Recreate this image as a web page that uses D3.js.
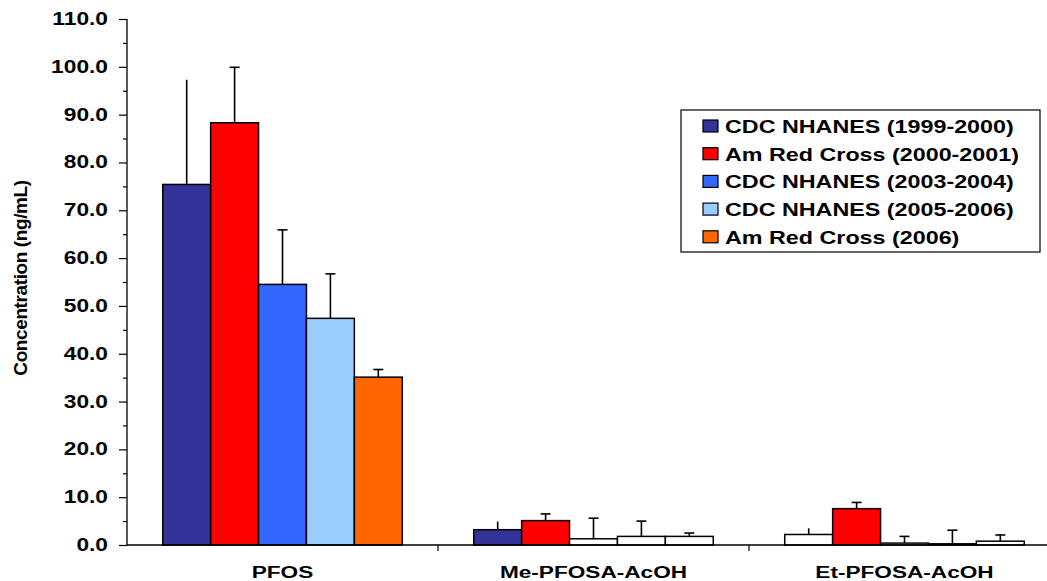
<!DOCTYPE html>
<html>
<head>
<meta charset="utf-8">
<script src="https://cdn.jsdelivr.net/npm/d3@7"></script>
<style>
  body { margin: 0; background: #fff; }
  text { font-family: Arial, "Liberation Sans", sans-serif; fill: #000; }
</style>
</head>
<body>
<div id="chart"></div>
<script>
const width = 1047;
const height = 581;

const categories = ["PFOS", "Me-PFOSA-AcOH", "Et-PFOSA-AcOH"];
const seriesNames = ["CDC NHANES (1999-2000)", "Am Red Cross (2000-2001)", "CDC NHANES (2003-2004)", "CDC NHANES (2005-2006)", "Am Red Cross (2006)"];
const seriesColors = ["#333399", "#ff0000", "#3366ff", "#99ccff", "#ff6600"];
// mean per category, one array per series
const means = [
    [75.4, 3.2, 2.2],
    [88.3, 5.1, 7.6],
    [54.5, 1.3, 0.4],
    [47.4, 1.8, 0.25],
    [35.1, 1.8, 0.8]
];
// upper error (SD)
const errors = [
    [21.9, 1.7, 1.3],
    [11.6, 1.4, 1.3],
    [11.4, 4.3, 1.4],
    [9.3, 3.2, 2.85],
    [1.6, 0.7, 1.3]
];
// bars drawn hollow where the compound was mostly not detected
const detected = [
    [true, true, false],
    [true, true, true],
    [true, false, false],
    [true, false, false],
    [true, false, false]
];
const yTicks = [0, 10, 20, 30, 40, 50, 60, 70, 80, 90, 100, 110];

const margin = {left: 127, top: 19, bottom: 545};

const data = [];
seriesNames.forEach((s, i) => {
    categories.forEach((c, j) => {
        data.push({series: s, si: i, cat: c, value: means[i][j], err: errors[i][j], filled: detected[i][j]});
    });
});

const x0 = d3.scaleBand().domain(categories).range([margin.left, margin.left + 311 * 3]);
const x1 = d3.scaleBand().domain(seriesNames).range([0, x0.bandwidth()]).paddingOuter(0.746);
const y = d3.scaleLinear().domain([0, 110]).range([margin.bottom, margin.top]);

const svg = d3.select("#chart").append("svg")
    .attr("width", width)
    .attr("height", height);

// bars
const bars = svg.append("g")
    .attr("stroke", "#000")
    .attr("stroke-width", 1.5);

bars.selectAll("rect")
    .data(data)
    .join("rect")
    .attr("x", d => x0(d.cat) + x1(d.series))
    .attr("y", d => y(d.value))
    .attr("width", x1.bandwidth())
    .attr("height", d => y(0) - y(d.value))
    .attr("fill", d => d.filled ? seriesColors[d.si] : "#fff");

// error bars (upper only)
const eb = svg.append("g")
    .attr("stroke", "#000")
    .attr("stroke-width", 1.6);

eb.selectAll("line.stem")
    .data(data)
    .join("line")
    .attr("class", "stem")
    .attr("x1", d => x0(d.cat) + x1(d.series) + x1.bandwidth() / 2)
    .attr("x2", d => x0(d.cat) + x1(d.series) + x1.bandwidth() / 2)
    .attr("y1", d => y(d.value))
    .attr("y2", d => y(d.value + d.err));

eb.selectAll("line.cap")
    .data(data.filter(d => d.si > 0))
    .join("line")
    .attr("class", "cap")
    .attr("x1", d => x0(d.cat) + x1(d.series) + x1.bandwidth() / 2 - 5)
    .attr("x2", d => x0(d.cat) + x1(d.series) + x1.bandwidth() / 2 + 5)
    .attr("y1", d => y(d.value + d.err))
    .attr("y2", d => y(d.value + d.err));

// y axis
const yAxis = svg.append("g")
    .attr("transform", `translate(${margin.left},0)`)
    .call(d3.axisLeft(y).tickValues(d3.range(0, 111, 5)).tickSize(4).tickFormat(""));
yAxis.selectAll(".tick line").filter(d => d % 10 === 0).attr("x2", -8);
yAxis.select(".domain").attr("d", `M0,${y(110)}V${y(0)}`).attr("stroke-width", 1.3);
yAxis.selectAll(".tick line").attr("stroke-width", 1.2);

svg.append("g").selectAll("text")
    .data(yTicks)
    .join("text")
    .attr("transform", d => `translate(108,${y(d) + 6}) scale(1.3,1)`)
    .attr("text-anchor", "end")
    .style("font-size", "17.5px")
    .style("font-weight", "bold")
    .text(d => d.toFixed(1));

// x axis
svg.append("line")
    .attr("x1", margin.left).attr("x2", width)
    .attr("y1", y(0)).attr("y2", y(0))
    .attr("stroke", "#000").attr("stroke-width", 1.5);

svg.append("g").selectAll("line")
    .data(categories.slice(1))
    .join("line")
    .attr("x1", d => x0(d)).attr("x2", d => x0(d))
    .attr("y1", y(0)).attr("y2", y(0) + 6)
    .attr("stroke", "#000").attr("stroke-width", 1.2);

svg.append("g").selectAll("text")
    .data(categories)
    .join("text")
    .attr("transform", d => `translate(${x0(d) + x0.bandwidth() / 2},578) scale(1.33,1)`)
    .attr("text-anchor", "middle")
    .style("font-size", "17px")
    .style("font-weight", "bold")
    .text(d => d);

// y title
svg.append("text")
    .attr("transform", "translate(27,278) rotate(-90)")
    .attr("text-anchor", "middle")
    .style("font-size", "19px")
    .style("font-weight", "bold")
    .style("letter-spacing", "-0.4px")
    .text("Concentration (ng/mL)");

// legend
const legend = svg.append("g").attr("transform", "translate(681,110)");
legend.append("rect")
    .attr("width", 359).attr("height", 142)
    .attr("fill", "#fff").attr("stroke", "#000").attr("stroke-width", 1.2);

const items = legend.selectAll("g.item")
    .data(seriesNames)
    .join("g")
    .attr("class", "item")
    .attr("transform", (d, i) => `translate(0,${16 + i * 27.7})`);

items.append("rect")
    .attr("x", 22).attr("y", -6)
    .attr("width", 15).attr("height", 12)
    .attr("fill", (d, i) => seriesColors[i])
    .attr("stroke", "#000").attr("stroke-width", 1.2);

items.append("text")
    .attr("transform", "translate(44,7) scale(1.26,1)")
    .style("font-size", "18.5px")
    .style("font-weight", "bold")
    .text(d => d);
</script>
</body>
</html>
